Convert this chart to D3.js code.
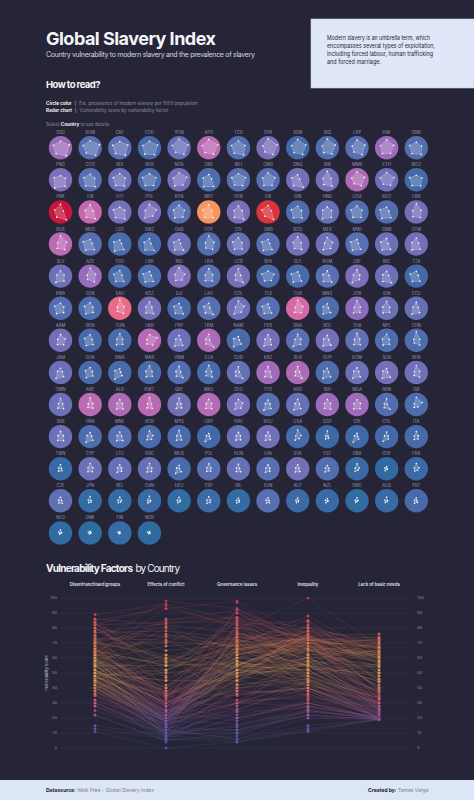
<!DOCTYPE html>
<html>
<head>
<meta charset="utf-8">
<script src="https://cdn.jsdelivr.net/npm/d3@7"></script>
<style>
  body { margin: 0; background: #262537; }
  svg { display: block; font-family: Inter, "Noto Sans", sans-serif; }
</style>
</head>
<body>
<script>
// countries in order of overall vulnerability (13 per row)
const codes = [
  "SSD","SOM","CAF","COD","YEM","AFG","TCD","SYR","SDN","IRQ","LBY","PAK","GNB",
  "PNG","COG","BDI","NER","NGA","ZWE","MLI","CMR","GNQ","IRN","MMR","ETH","MOZ",
  "PRK","TJK","HTI","PHL","KEN","MRT","VEN","ERI","GIN","HND","UGA","AGO","LBN",
  "RUS","MDG","LSO","SWZ","GAB","EGY","CIV","ZMB","BGD","MEX","MWI","GMB","GTM",
  "SLV","AZE","TGO","LBR","IND","LKA","UZB","BFA","SLE","KHM","ZAF","NIC","TZA",
  "RWA","SEN","SAU","KGZ","DJI","LAO","COL","TLS","TUR","MNG","JOR","IDN","ECU",
  "ARM","BEN","TUN","UKR","PRY","TKM","NAM","PER","BRA","BOL","THA","NPL","CHN",
  "JAM","GHA","BWA","MAR","VNM","DZA","CUB","KAZ","BLR","GUY","DOM","SUR","BHR",
  "OMN","ARE","ALB","KWT","QAT","MKD","GEO","TTO","ARG","BIH","MDA","BRN","ISR",
  "SRB","PAN","MNE","KOR","MYS","URY","HRV","ROU","USA","SGP","CRI","CHL","ITA",
  "TWN","CYP","LTU","GRC","MUS","POL","HUN","LVA","SVK","EST","GBR","CHE","FRA",
  "CZE","JPN","BEL","CAN","DEU","ESP","IRL","SVN","AUT","NZL","SWE","AUS","PRT",
  "NLD","DNK","FIN","NOR"
];

// est. prevalence of modern slavery per 1000 population
const prevalence = [
  10.3, 5.0, 5.2, 3.5, 6.0, 13.0, 4.5, 7.5, 3.0, 4.5, 5.0, 10.6, 4.5,
  8.0, 5.0, 6.5, 4.0, 7.0, 4.0, 5.0, 5.0, 7.0, 7.0, 12.1, 6.5, 3.0,
  104.6, 14.0, 7.0, 7.5, 5.0, 32.0, 7.5, 90.3, 4.0, 6.0, 4.5, 4.5, 7.0,
  13.0, 5.0, 3.5, 3.5, 6.5, 4.5, 6.0, 5.0, 7.0, 6.5, 5.0, 6.5, 7.0,
  6.5, 10.0, 3.5, 4.0, 8.0, 5.0, 7.0, 3.5, 3.5, 5.0, 7.5, 6.5, 3.0,
  4.5, 4.0, 21.3, 7.0, 3.5, 5.0, 6.5, 5.0, 15.6, 4.0, 9.0, 6.5, 6.0,
  7.0, 3.5, 3.5, 12.8, 6.5, 11.9, 3.5, 7.0, 5.0, 7.0, 5.7, 4.0, 4.0,
  6.5, 3.5, 3.5, 3.5, 4.5, 3.5, 6.0, 11.0, 12.0, 4.0, 6.5, 7.0, 6.7,
  6.5, 13.4, 12.0, 13.0, 6.8, 12.6, 7.0, 5.0, 6.0, 10.5, 10.5, 4.5, 4.0,
  6.5, 4.0, 5.0, 3.5, 3.5, 3.0, 6.0, 7.0, 3.3, 2.1, 2.5, 3.0, 3.3,
  1.7, 6.5, 6.0, 6.0, 3.5, 5.0, 6.0, 5.0, 7.0, 4.5, 1.8, 0.5, 2.1,
  5.5, 1.1, 1.0, 1.8, 0.6, 2.3, 1.1, 5.0, 1.9, 1.6, 0.6, 1.6, 3.5,
  0.6, 0.6, 1.4, 0.5
];

// vulnerability scores by factor
const disenfranchised = [
  63, 70, 61, 64, 85, 82, 67, 89, 82, 86, 77, 79, 55,
  40, 56, 62, 59, 70, 52, 61, 69, 50, 84, 77, 72, 45,
  75, 70, 48, 73, 65, 70, 58, 64, 56, 50, 58, 46, 80,
  82, 45, 40, 52, 43, 80, 63, 45, 72, 65, 44, 56, 60,
  54, 78, 55, 45, 83, 72, 73, 50, 42, 52, 62, 48, 49,
  50, 54, 86, 62, 46, 50, 71, 42, 80, 44, 75, 66, 58,
  57, 55, 66, 55, 48, 60, 38, 56, 60, 48, 68, 60, 84,
  42, 48, 36, 63, 60, 68, 56, 58, 59, 41, 45, 38, 66,
  60, 64, 48, 66, 62, 52, 50, 45, 52, 50, 47, 58, 70,
  52, 40, 46, 55, 60, 30, 42, 45, 66, 55, 32, 45, 50,
  40, 52, 40, 52, 35, 48, 44, 38, 40, 32, 48, 22, 52,
  35, 42, 38, 45, 36, 40, 25, 30, 28, 22, 30, 38, 28,
  28, 15, 11, 13
];
const conflict = [
  93, 98, 85, 86, 93, 95, 70, 96, 84, 82, 83, 74, 55,
  51, 48, 57, 68, 81, 30, 75, 71, 20, 40, 78, 76, 60,
  30, 32, 52, 72, 55, 34, 40, 36, 40, 45, 52, 24, 52,
  65, 22, 18, 16, 15, 57, 40, 17, 37, 55, 14, 16, 25,
  38, 58, 24, 20, 59, 42, 24, 62, 19, 18, 30, 21, 22,
  35, 30, 47, 26, 20, 12, 60, 15, 55, 10, 35, 33, 22,
  50, 22, 30, 80, 18, 10, 10, 28, 35, 15, 30, 28, 36,
  20, 24, 8, 28, 16, 30, 10, 22, 20, 13, 18, 10, 36,
  24, 28, 28, 22, 20, 30, 45, 20, 18, 34, 36, 6, 62,
  30, 15, 20, 38, 18, 8, 22, 20, 35, 8, 7, 16, 22,
  10, 30, 18, 25, 4, 25, 12, 18, 14, 16, 25, 5, 28,
  12, 9, 18, 12, 14, 20, 10, 10, 8, 5, 12, 10, 6,
  12, 8, 0, 6
];
const governance = [
  98, 93, 92, 87, 82, 80, 90, 85, 84, 77, 87, 68, 84,
  79, 85, 76, 71, 65, 82, 72, 68, 93, 78, 73, 67, 74,
  97, 86, 87, 52, 64, 74, 90, 92, 75, 70, 69, 72, 70,
  69, 71, 69, 80, 76, 66, 63, 68, 67, 56, 65, 66, 65,
  60, 71, 67, 66, 48, 60, 80, 54, 62, 74, 43, 82, 63,
  55, 52, 64, 68, 72, 77, 49, 60, 57, 55, 50, 50, 55,
  55, 52, 50, 58, 62, 83, 47, 55, 48, 60, 55, 48, 58,
  52, 45, 40, 48, 66, 58, 76, 60, 74, 55, 55, 62, 56,
  52, 45, 56, 48, 42, 52, 45, 50, 52, 58, 52, 58, 30,
  52, 45, 50, 35, 42, 28, 40, 40, 25, 20, 30, 30, 30,
  25, 38, 30, 36, 38, 32, 38, 30, 36, 26, 18, 10, 20,
  30, 15, 16, 12, 12, 22, 14, 24, 12, 8, 6, 10, 20,
  6, 5, 4, 4
];
const inequality = [
  75, 67, 72, 80, 57, 62, 70, 52, 62, 61, 53, 73, 73,
  100, 77, 70, 72, 75, 85, 65, 70, 72, 60, 49, 55, 72,
  65, 66, 72, 75, 74, 70, 68, 54, 72, 85, 68, 81, 60,
  55, 78, 88, 75, 75, 50, 66, 80, 55, 70, 78, 74, 73,
  78, 42, 68, 72, 55, 58, 48, 60, 75, 66, 82, 66, 67,
  67, 70, 40, 60, 63, 58, 72, 66, 52, 72, 60, 58, 74,
  52, 65, 56, 46, 72, 46, 80, 70, 75, 72, 52, 60, 34,
  76, 66, 84, 55, 48, 42, 45, 55, 40, 74, 72, 73, 38,
  45, 38, 55, 42, 48, 50, 58, 70, 66, 48, 56, 40, 36,
  48, 70, 52, 40, 46, 62, 44, 46, 44, 30, 66, 58, 35,
  30, 38, 45, 40, 58, 33, 36, 44, 40, 40, 32, 25, 28,
  28, 24, 25, 26, 22, 30, 28, 27, 22, 25, 20, 22, 30,
  15, 13, 12, 11
];
const basicNeeds = [
  76, 73, 74, 70, 71, 68, 72, 56, 65, 55, 50, 63, 71,
  68, 66, 69, 72, 60, 59, 69, 57, 62, 44, 55, 66, 70,
  60, 52, 67, 45, 58, 62, 45, 64, 66, 50, 62, 68, 38,
  30, 73, 62, 56, 57, 35, 62, 64, 48, 30, 67, 63, 46,
  38, 30, 62, 67, 45, 37, 33, 65, 67, 48, 38, 41, 64,
  61, 60, 26, 37, 55, 54, 30, 61, 25, 46, 28, 42, 35,
  30, 58, 32, 27, 35, 34, 50, 33, 28, 40, 28, 44, 27,
  32, 50, 52, 38, 33, 30, 30, 28, 24, 39, 34, 40, 20,
  22, 20, 30, 20, 19, 27, 30, 28, 27, 30, 33, 24, 21,
  27, 33, 28, 20, 25, 25, 23, 26, 20, 19, 25, 22, 21,
  20, 23, 24, 22, 26, 21, 22, 23, 22, 21, 19, 19, 20,
  20, 20, 19, 19, 19, 20, 20, 21, 19, 20, 19, 19, 20,
  19, 19, 19, 19
];

const factorNames = ["Disenfranchised groups", "Effects of conflict", "Governance issues", "Inequality", "Lack of basic needs"];
const scoreTicks = [0, 10, 20, 30, 40, 50, 60, 70, 80, 90, 100];

const countries = codes.map((c, i) => ({
  code: c,
  prev: prevalence[i],
  values: [disenfranchised[i], conflict[i], governance[i], inequality[i], basicNeeds[i]]
}));

const W = 474, H = 800;
const bg = "#262537";

const svg = d3.select("body").append("svg")
  .attr("width", W)
  .attr("height", H);

svg.append("rect").attr("width", W).attr("height", H).attr("fill", bg);

// ---- header
svg.append("text")
  .attr("x", 46).attr("y", 45.2)
  .attr("font-size", 18).attr("font-weight", 700)
  .attr("fill", "#f4f4f8")
  .attr("textLength", 170).attr("lengthAdjust", "spacing")
  .text("Global Slavery Index");

svg.append("text")
  .attr("x", 46).attr("y", 56.6)
  .attr("font-size", 7)
  .attr("fill", "#d6d6e0")
  .attr("textLength", 209).attr("lengthAdjust", "spacing")
  .text("Country vulnerability to modern slavery and the prevalence of slavery");

svg.append("rect")
  .attr("x", 311).attr("y", 19)
  .attr("width", 163).attr("height", 69)
  .attr("fill", "#dfe7f9")
  .attr("stroke", "#c9d3e8").attr("stroke-width", 0.6);

const boxLines = ["Modern slavery is an umbrella term, which", "encompasses several types of exploitation,", "including forced labour, human trafficking", "and forced marriage."];
const boxLens = [103, 108, 106, 54];
svg.append("g").selectAll("text")
  .data(boxLines)
  .enter().append("text")
    .attr("x", 327)
    .attr("y", (d, i) => 39.5 + i * 8.1)
    .attr("font-size", 6.6)
    .attr("fill", "#1e1e2a")
    .attr("textLength", (d, i) => boxLens[i]).attr("lengthAdjust", "spacingAndGlyphs")
    .text(d => d);

svg.append("text")
  .attr("x", 46).attr("y", 88)
  .attr("font-size", 9.5).attr("font-weight", 700)
  .attr("fill", "#f4f4f8")
  .attr("textLength", 54.5).attr("lengthAdjust", "spacing")
  .text("How to read?");

const legend1 = svg.append("text").attr("x", 46).attr("y", 104.8).attr("font-size", 4.6).attr("fill", "#8e8da3");
legend1.append("tspan").attr("font-weight", 700).attr("fill", "#f0f0f5").text("Circle color");
legend1.append("tspan").attr("dx", 3).attr("fill", "#c8c8d4").text("|");
legend1.append("tspan").attr("dx", 3).text("Est. prevalence of modern slavery per 1000 population");

const legend2 = svg.append("text").attr("x", 46).attr("y", 112).attr("font-size", 4.6).attr("fill", "#8e8da3");
legend2.append("tspan").attr("font-weight", 700).attr("fill", "#f0f0f5").text("Radar chart");
legend2.append("tspan").attr("dx", 3).attr("fill", "#c8c8d4").text("|");
legend2.append("tspan").attr("dx", 3).text("Vulnerability score by vulnerability factor");

const legend3 = svg.append("text").attr("x", 46).attr("y", 125.5).attr("font-size", 4.6).attr("fill", "#8e8da3");
legend3.append("tspan").text("Select ");
legend3.append("tspan").attr("font-weight", 700).attr("fill", "#f0f0f5").text("Country");
legend3.append("tspan").text(" to see details");

// ---- circle grid
const nCols = 13;
const gx = d3.scaleLinear().domain([0, 12]).range([60.5, 416.3]);
const gy = d3.scaleLinear().domain([0, 12]).range([147.7, 532.9]);

const prevColor = d3.scaleLinear()
  .domain([0, 1, 3, 5, 7, 10, 13, 16, 21, 32, 90, 105])
  .range(["#2a6a9e", "#346ba3", "#4469a8", "#5870b1", "#7370b8", "#966cbb", "#b86ab3", "#d86aa4", "#ea6a88", "#f89560", "#dc3440", "#c4163c"])
  .clamp(true);

const rRadar = d3.scaleLinear().domain([0, 100]).range([0, 10]);
const angle = d3.scaleLinear().domain([0, 5]).range([0, 2 * Math.PI]);
const radarLine = d3.lineRadial()
  .angle((d, i) => angle(i))
  .radius(d => rRadar(d))
  .curve(d3.curveLinearClosed);

const cell = svg.append("g").selectAll("g")
  .data(countries)
  .enter().append("g")
    .attr("transform", (d, i) => `translate(${gx(i % nCols)},${gy(Math.floor(i / nCols))})`);

cell.append("text")
  .attr("y", -13.5)
  .attr("text-anchor", "middle")
  .attr("font-size", 4.2)
  .attr("fill", "#9a99ad")
  .text(d => d.code);

cell.append("circle")
  .attr("r", 11.7)
  .attr("fill", d => prevColor(d.prev));

cell.append("path")
  .attr("d", d => radarLine(d.values))
  .attr("fill", "rgba(255,255,255,0.2)")
  .attr("stroke", "rgba(255,255,255,0.5)")
  .attr("stroke-width", 0.45);

cell.selectAll("circle.v")
  .data(d => d.values)
  .enter().append("circle")
    .attr("class", "v")
    .attr("cx", (v, i) => d3.pointRadial(angle(i), rRadar(v))[0])
    .attr("cy", (v, i) => d3.pointRadial(angle(i), rRadar(v))[1])
    .attr("r", 0.8)
    .attr("fill", "#ffffff");

// ---- parallel coordinates
svg.append("text").attr("x", 46).attr("y", 571.5)
  .attr("font-size", 10).attr("font-weight", 700).attr("fill", "#f4f4f8")
  .attr("textLength", 87).attr("lengthAdjust", "spacing")
  .text("Vulnerability Factors");
svg.append("text").attr("x", 135.5).attr("y", 571.5)
  .attr("font-size", 10).attr("font-weight", 400).attr("fill", "#f4f4f8")
  .attr("textLength", 44.5).attr("lengthAdjust", "spacing")
  .text("by Country");

const px = d3.scalePoint().domain(factorNames).range([95, 379]);
const py = d3.scaleLinear().domain([0, 100]).range([748, 598]);

const valueColor = d3.scaleLinear()
  .domain([0, 12, 22, 32, 45, 55, 65, 78, 90, 100])
  .range(["#4a6fb0", "#7563b0", "#a860a8", "#e0607a", "#f09c52", "#f2ab55", "#f59350", "#ec7060", "#e04c6a", "#d83c64"])
  .clamp(true);

const grid = svg.append("g");
grid.selectAll("line")
  .data(scoreTicks)
  .enter().append("line")
    .attr("x1", 60).attr("x2", 413)
    .attr("y1", d => py(d)).attr("y2", d => py(d))
    .attr("stroke", "#3a394e").attr("stroke-width", 0.5);
grid.selectAll("text.l")
  .data(scoreTicks)
  .enter().append("text")
    .attr("class", "l")
    .attr("x", 57).attr("y", d => py(d) + 1.4)
    .attr("text-anchor", "end")
    .attr("font-size", 4).attr("fill", "#8a899c")
    .text(d => d);
grid.selectAll("text.r")
  .data(scoreTicks)
  .enter().append("text")
    .attr("class", "r")
    .attr("x", 417).attr("y", d => py(d) + 1.4)
    .attr("font-size", 4).attr("fill", "#8a899c")
    .text(d => d);

svg.append("text")
  .attr("transform", `translate(47.5,${py(50)}) rotate(-90)`)
  .attr("text-anchor", "middle")
  .attr("font-size", 4).attr("fill", "#b5b4c4")
  .text("Vulnerability Score");

svg.append("g").selectAll("text")
  .data(factorNames)
  .enter().append("text")
    .attr("x", d => px(d)).attr("y", 586)
    .attr("text-anchor", "middle")
    .attr("font-size", 4.3).attr("font-weight", 700)
    .attr("fill", "#d8d7e2")
    .text(d => d);

// line segments, each with a gradient between its two end values
const segs = [];
countries.forEach((c, i) => {
  for (let k = 0; k < 4; k++) {
    segs.push({ id: `s${i}_${k}`, v0: c.values[k], v1: c.values[k + 1], k: k });
  }
});

const defs = svg.append("defs");
const grads = defs.selectAll("linearGradient")
  .data(segs)
  .enter().append("linearGradient")
    .attr("id", d => d.id)
    .attr("gradientUnits", "userSpaceOnUse")
    .attr("x1", d => px(factorNames[d.k])).attr("y1", d => py(d.v0))
    .attr("x2", d => px(factorNames[d.k + 1])).attr("y2", d => py(d.v1));
grads.append("stop").attr("offset", 0).attr("stop-color", d => valueColor(d.v0));
grads.append("stop").attr("offset", 1).attr("stop-color", d => valueColor(d.v1));

svg.append("g").selectAll("line")
  .data(segs)
  .enter().append("line")
    .attr("x1", d => px(factorNames[d.k])).attr("y1", d => py(d.v0))
    .attr("x2", d => px(factorNames[d.k + 1])).attr("y2", d => py(d.v1))
    .attr("stroke", d => `url(#${d.id})`)
    .attr("stroke-width", 0.5)
    .attr("stroke-opacity", 0.28);

const dots = [];
countries.forEach(c => c.values.forEach((v, k) => dots.push({ v: v, k: k })));
svg.append("g").selectAll("circle")
  .data(dots)
  .enter().append("circle")
    .attr("cx", d => px(factorNames[d.k]))
    .attr("cy", d => py(d.v))
    .attr("r", 1.5)
    .attr("fill", d => valueColor(d.v))
    .attr("fill-opacity", 0.85)
    .attr("stroke", bg).attr("stroke-width", 0.25);

// ---- footer
svg.append("rect").attr("x", 0).attr("y", 780).attr("width", W).attr("height", 20).attr("fill", "#dde6f7");
const foot1 = svg.append("text").attr("x", 46).attr("y", 792).attr("font-size", 5).attr("fill", "#7d7d8c");
foot1.append("tspan").attr("font-weight", 700).attr("fill", "#1a1a28").text("Datasource:");
foot1.append("tspan").text(" Walk Free - Global Slavery Index");
const foot2 = svg.append("text").attr("x", 428.5).attr("y", 792).attr("font-size", 5).attr("text-anchor", "end").attr("fill", "#7d7d8c");
foot2.append("tspan").attr("font-weight", 700).attr("fill", "#1a1a28").text("Created by:");
foot2.append("tspan").text(" Tamás Varga");
</script>
</body>
</html>
